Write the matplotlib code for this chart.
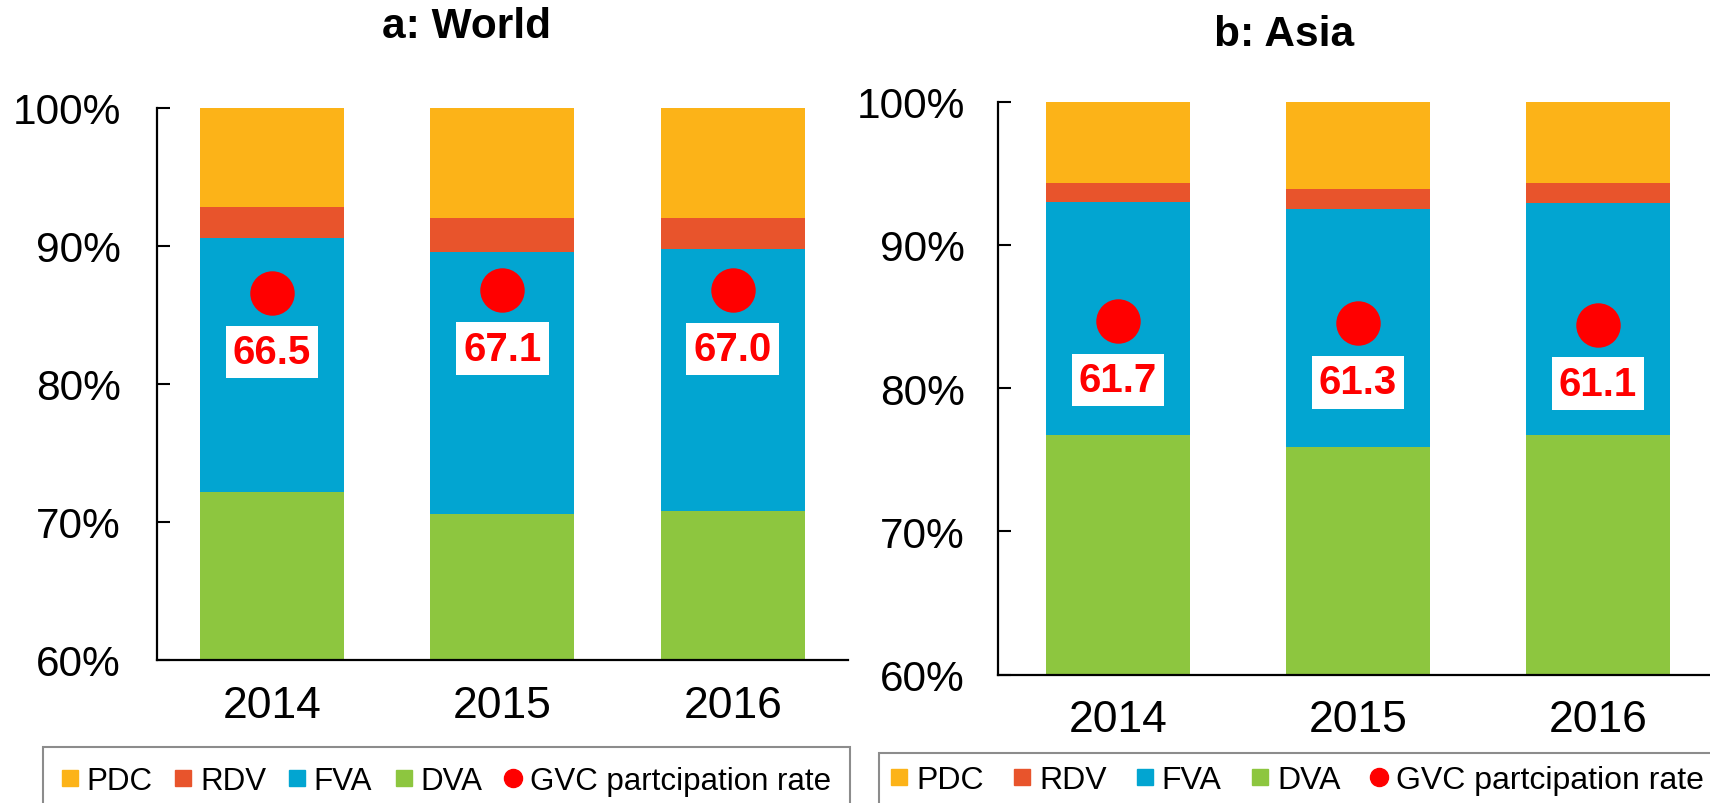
import matplotlib
matplotlib.use("Agg")
import matplotlib.pyplot as plt
from matplotlib.lines import Line2D
from matplotlib.ticker import FuncFormatter
import numpy as np

plt.rcParams['font.family'] = ['Liberation Sans', 'DejaVu Sans']

years = ['2014', '2015', '2016']
series = ['DVA', 'FVA', 'RDV', 'PDC']
colors = {'PDC': '#FCB318', 'RDV': '#E8542C', 'FVA': '#02A5D1', 'DVA': '#8DC63F'}

# shares of gross exports (%), stacked bottom to top: DVA, FVA, RDV, PDC
world_dva = [72.2, 70.6, 70.8]
world_fva = [18.4, 19.0, 19.0]
world_rdv = [2.2, 2.4, 2.2]
world_pdc = [7.2, 8.0, 8.0]
world_gvc = [66.5, 67.1, 67.0]

asia_dva = [76.7, 75.9, 76.7]
asia_fva = [16.3, 16.6, 16.2]
asia_rdv = [1.3, 1.4, 1.4]
asia_pdc = [5.7, 6.1, 5.7]
asia_gvc = [61.7, 61.3, 61.1]

W, H = 1710, 804
fig = plt.figure(figsize=(W / 100, H / 100), dpi=100)
fig.patch.set_facecolor('white')


def px_axes(x0, y0, x1, y1):
    # pixel box (left, top, right, bottom) -> figure fraction axes
    return fig.add_axes([x0 / W, 1 - y1 / H, (x1 - x0) / W, (y1 - y0) / H])


def draw_panel(ax, parts, gvc, bar_w, ypad):
    x = np.arange(len(years))
    bottom = np.zeros(len(years))
    for name in series:
        vals = np.array(parts[name])
        ax.bar(x, vals, bar_w, bottom=bottom, color=colors[name], edgecolor='none', zorder=2)
        bottom += vals
    ax.set_xlim(-0.5, len(years) - 0.5)
    ax.set_ylim(60, 100)
    ax.set_yticks([60, 70, 80, 90, 100])
    ax.yaxis.set_major_formatter(FuncFormatter(lambda v, p: '%d%%' % v))
    ax.set_xticks(x)
    ax.set_xticklabels(years)
    ax.tick_params(axis='y', direction='in', length=9, width=1.5, labelsize=30.5, pad=ypad)
    ax.tick_params(axis='x', length=0, labelsize=32, pad=18)
    for s in ['top', 'right']:
        ax.spines[s].set_visible(False)
    for s in ['left', 'bottom']:
        ax.spines[s].set_linewidth(1.6)

    # GVC participation rate on a hidden 0-100 secondary axis
    ax2 = ax.twinx()
    ax2.set_ylim(0, 100)
    ax2.axis('off')
    ax2.plot(x, gvc, 'o', color='#FF0000', markersize=32, markeredgewidth=0, linestyle='none', zorder=3)
    for xi, g in zip(x, gvc):
        ax2.annotate('%.1f' % g, (xi, g), xytext=(0, -42.5), textcoords='offset points',
                     ha='center', va='center', fontsize=29, fontweight='bold', color='#FF0000',
                     bbox=dict(boxstyle='square,pad=0.18', fc='white', ec='none'))
    return ax2


def add_legend(ax, x0, y0, size, bpad, colsp):
    handles = [Line2D([], [], marker='s', color=colors[n], linestyle='none', markersize=11) for n in ['PDC', 'RDV', 'FVA', 'DVA']]
    handles.append(Line2D([], [], marker='o', color='#FF0000', linestyle='none', markersize=13))
    labels = ['PDC', 'RDV', 'FVA', 'DVA', 'GVC partcipation rate']
    leg = ax.legend(handles, labels, loc='upper left', bbox_to_anchor=(x0 / W, 1 - y0 / H),
                    bbox_transform=fig.transFigure, ncol=5, fontsize=size, frameon=True,
                    fancybox=False, framealpha=1, edgecolor='#8c8c8c', borderaxespad=0,
                    borderpad=bpad, handlelength=0.5, handletextpad=0.28, columnspacing=colsp)
    leg.get_frame().set_linewidth(1.5)
    leg.set_zorder(10)


world = {'DVA': world_dva, 'FVA': world_fva, 'RDV': world_rdv, 'PDC': world_pdc}
asia = {'DVA': asia_dva, 'FVA': asia_fva, 'RDV': asia_rdv, 'PDC': asia_pdc}

ax_a = px_axes(156.75, 109, 848, 661)
ax_a2 = draw_panel(ax_a, world, world_gvc, 0.625, 26)
ax_b = px_axes(998, 102.7, 1718, 675.5)
ax_b2 = draw_panel(ax_b, asia, asia_gvc, 0.6, 24)

fig.text(466 / W, 1 - 38 / H, 'a: World', ha='center', va='baseline', fontsize=30.5, fontweight='bold')
fig.text(1284 / W, 1 - 46 / H, 'b: Asia', ha='center', va='baseline', fontsize=30.5, fontweight='bold')

add_legend(ax_a2, 43, 748, 22.5, 0.6, 0.75)
add_legend(ax_b2, 879, 754, 23, 0.38, 0.95)

fig.savefig('out.png', dpi=100)
